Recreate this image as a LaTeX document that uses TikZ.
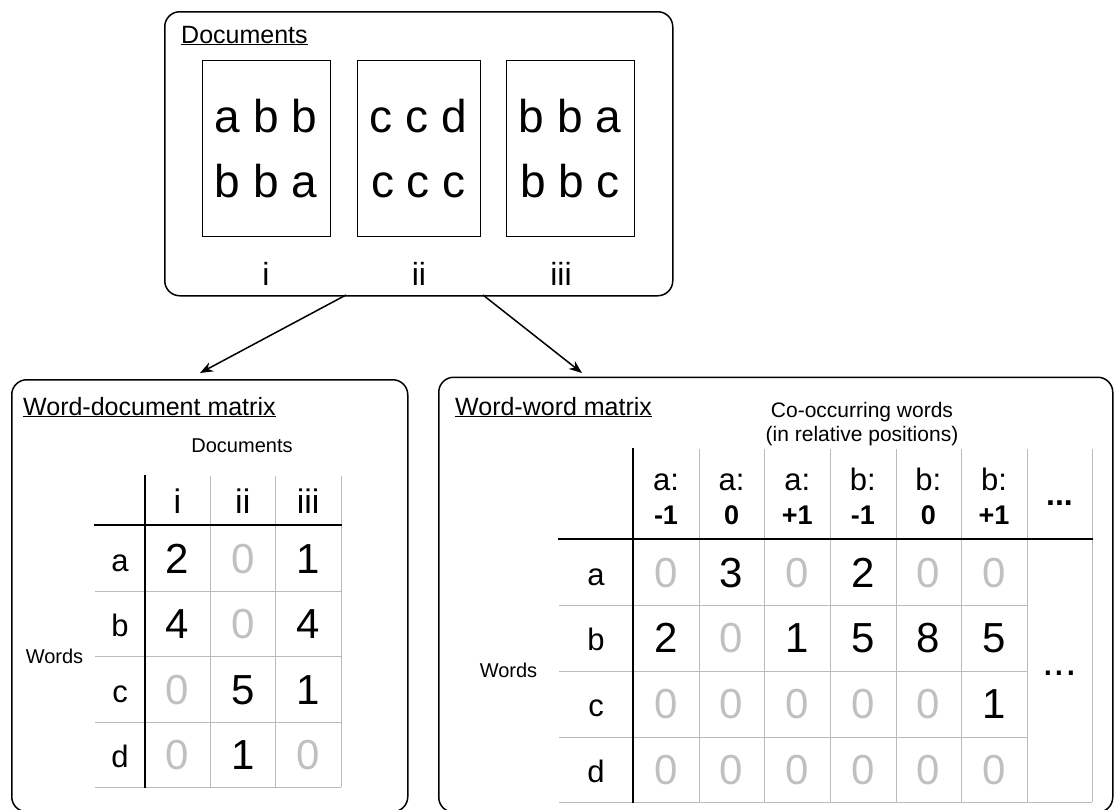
\documentclass[tikz,border=0pt]{standalone}
\usepackage{fontspec}
\setmainfont{Liberation Sans}
\usetikzlibrary{arrows.meta}
\definecolor{gridgray}{HTML}{BBBBBB}
\definecolor{zerogray}{HTML}{C0C0C0}
\newcommand\fsz[1]{\fontsize{#1}{#1}\selectfont}
\begin{document}
\begin{tikzpicture}[x=1pt,y=-1pt,
  panel/.style={draw, line width=1.5pt, rounded corners=15pt, anchor=north west, inner sep=0pt},
  docpage/.style={draw, line width=1pt, anchor=north west, inner sep=0pt},
  txt/.style={inner sep=0pt, anchor=base},
  thickline/.style={line width=2pt, line cap=rect},
  gridline/.style={line width=1pt, draw=gridgray},
  arr/.style={-{Stealth[length=13pt,width=10pt]}, line width=1.5pt}]
\useasboundingbox (0,0) rectangle (1114,809);
\clip (0,0) rectangle (1114,809);

% ---------- panels ----------
\node[panel, minimum width=508pt, minimum height=284pt] (docs) at (164,11) {};
\node[panel, minimum width=396pt, minimum height=432pt] (wd) at (11,379) {};
\node[panel, minimum width=674pt, minimum height=435pt] (ww) at (438,376.5) {};

% ---------- documents ----------
\node[txt, anchor=base west] (tdocs) at (181,43) {\fsz{25}\underline{Documents}};
\node[docpage, minimum width=128pt, minimum height=176pt] (d1) at (202,60) {};
\node[docpage, minimum width=123pt, minimum height=176pt] (d2) at (357,60) {};
\node[docpage, minimum width=128pt, minimum height=176pt] (d3) at (506,60) {};
\node[txt] (d1a) at (266,132) {\fsz{46}a b b};
\node[txt] (d1b) at (266,197) {\fsz{46}b b a};
\node[txt] (d2a) at (418.5,132) {\fsz{46}c c d};
\node[txt] (d2b) at (418.5,197) {\fsz{46}c c c};
\node[txt] (d3a) at (570,132) {\fsz{46}b b a};
\node[txt] (d3b) at (570,197) {\fsz{46}b b c};
\node[txt] (l1) at (266,285) {\fsz{32}i};
\node[txt] (l2) at (419,285) {\fsz{32}ii};
\node[txt] (l3) at (561,285) {\fsz{32}iii};

% ---------- arrows ----------
\coordinate (la) at (346,295);
\coordinate (lb) at (200,373);
\coordinate (ra) at (483,295);
\coordinate (rb) at (582,373);
\draw[arr] (la) -- (lb);
\draw[arr] (ra) -- (rb);

% ---------- word-document matrix ----------
\node[txt, anchor=base west] (twd) at (23,415) {\fsz{25}\underline{Word-document matrix}};
\node[txt] (wdcol) at (242,452) {\fsz{20}Documents};
\node[txt] (wdrow) at (54.5,663) {\fsz{20}Words};
\foreach \y in {591,656,722,787} \draw[gridline] (95,\y) -- (341,\y);
\foreach \x in {210,275,341} \draw[gridline] (\x,476) -- (\x,787);
\draw[thickline] (145,476) -- (145,787);
\draw[thickline] (95,525) -- (341,525);
\foreach \h [count=\c] in {i,ii,iii}
  \node[txt] (wdh-\c) at ({177.5+(\c-1)*65.3},513) {\fsz{34}\h};
\foreach \rl/\vals [count=\r] in {a/{2,0,1}, b/{4,0,4}, c/{0,5,1}, d/{0,1,0}} {
  \pgfmathsetmacro\ry{558+(\r-1)*65.5}
  \node[txt] (wdr-\r) at (120,\ry+13) {\fsz{31}\rl};
  \foreach \v [count=\c] in \vals {
    \ifnum\v=0 \def\vcol{zerogray}\else\def\vcol{black}\fi
    \node[txt, text=\vcol] (wdv-\r-\c) at ({177.5+(\c-1)*65.3},\ry+15) {\fsz{42}\v};
  }
}

% ---------- word-word matrix ----------
\node[txt, anchor=base west] (tww) at (455,415) {\fsz{25}\underline{Word-word matrix}};
\node[txt] (wwc1) at (862,417) {\fsz{21}Co-occurring words};
\node[txt] (wwc2) at (862,441) {\fsz{21}(in relative positions)};
\node[txt] (wwrow) at (508.5,677.5) {\fsz{20}Words};
\foreach \y in {605,671,737} \draw[gridline] (559,\y) -- (1027,\y);
\draw[gridline] (559,802) -- (1092,802);
\foreach \x in {699,764,830,896,961,1027,1092} \draw[gridline] (\x,449) -- (\x,802);
\draw[thickline] (633,449) -- (633,802);
\draw[thickline] (559,539) -- (1092,539);
\foreach \w/\p [count=\c] in {a/-1,a/0,a/+1,b/-1,b/0,b/+1} {
  \node[txt] (wwh-\c) at ({666+(\c-1)*65.6},490) {\fsz{31}\w:};
  \node[txt] (wwp-\c) at ({666+(\c-1)*65.6},524) {\fsz{27}\bfseries\p};
}
\node[txt] (wwhdots) at (1059.5,505) {\fsz{32}\bfseries ...};
\node[txt] (wwbdots) at (1059.5,675) {\fsz{42}...};
\foreach \rl/\vals [count=\r] in {a/{0,3,0,2,0,0}, b/{2,0,1,5,8,5}, c/{0,0,0,0,0,1}, d/{0,0,0,0,0,0}} {
  \pgfmathsetmacro\ry{572+(\r-1)*65.8}
  \node[txt] (wwr-\r) at (596,\ry+13) {\fsz{31}\rl};
  \foreach \v [count=\c] in \vals {
    \ifnum\v=0 \def\vcol{zerogray}\else\def\vcol{black}\fi
    \node[txt, text=\vcol] (wwv-\r-\c) at ({666+(\c-1)*65.6},\ry+15) {\fsz{42}\v};
  }
}
\end{tikzpicture}
\end{document}
